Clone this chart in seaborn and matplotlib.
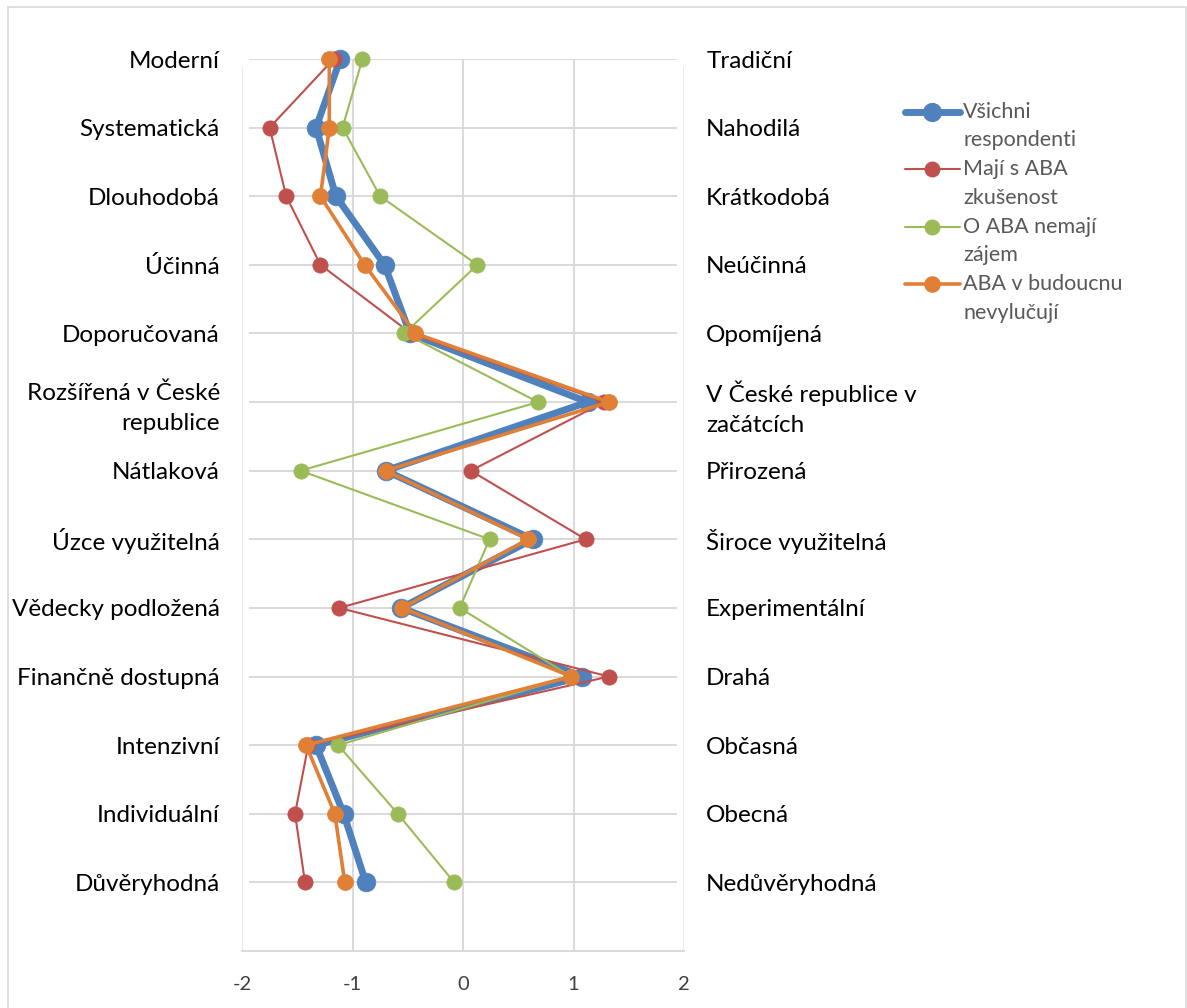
import numpy as np
import pandas as pd
import matplotlib
matplotlib.use("Agg")
import matplotlib.pyplot as plt
from matplotlib.lines import Line2D
from matplotlib.patches import Rectangle
import seaborn as sns

# Semantic differential: pairs of opposite attributes (left / right poles)
left_labels = ["Moderní", "Systematická", "Dlouhodobá", "Účinná", "Doporučovaná",
               "Rozšířená v České\nrepublice", "Nátlaková", "Úzce využitelná",
               "Vědecky podložená", "Finančně dostupná", "Intenzivní",
               "Individuální", "Důvěryhodná"]
right_labels = ["Tradiční", "Nahodilá", "Krátkodobá", "Neúčinná", "Opomíjená",
                "V České republice v\nzačátcích", "Přirozená", "Široce využitelná",
                "Experimentální", "Drahá", "Občasná", "Obecná", "Nedůvěryhodná"]

# Mean scores per respondent group (scale -2 .. 2), listed top to bottom
vsichni = [-1.11, -1.33, -1.15, -0.71, -0.48, 1.13, -0.70, 0.63, -0.56, 1.08, -1.33, -1.08, -0.88]
maji_zkusenost = [-1.17, -1.75, -1.60, -1.29, -0.47, 1.28, 0.07, 1.11, -1.12, 1.32, -1.40, -1.52, -1.43]
nemaji_zajem = [-0.91, -1.09, -0.75, 0.13, -0.53, 0.68, -1.47, 0.24, -0.03, 0.98, -1.13, -0.59, -0.08]
nevylucuji = [-1.21, -1.21, -1.29, -0.89, -0.43, 1.32, -0.70, 0.59, -0.55, 0.98, -1.42, -1.16, -1.07]

series_names = ["Všichni\nrespondenti", "Mají s ABA\nzkušenost",
                "O ABA nemají\nzájem", "ABA v budoucnu\nnevylučují"]
series_values = [vsichni, maji_zkusenost, nemaji_zajem, nevylucuji]
colors = ["#4F81BD", "#C0504D", "#9BBB59", "#E07F36"]
widths = [5.0, 1.5, 1.5, 2.6]
msizes = [13.5, 11, 11, 11.5]

xticks = [-2, -1, 0, 1, 2]

sns.set_theme(style="white")
plt.rcParams["font.family"] = ["Lato", "DejaVu Sans"]

n = len(left_labels)
ypos = np.arange(n, 0, -1)

frames = []
for name, vals in zip(series_names, series_values):
    frames.append(pd.DataFrame({"skupina": name, "hodnota": vals, "pozice": ypos}))
data = pd.concat(frames, ignore_index=True)

W, H = 1187, 1008
fig = plt.figure(figsize=(W / 100, H / 100), dpi=100)
ax = fig.add_axes([242 / W, 1 - 951 / H, 442 / W, 892 / H])

grid_c = "#D9D9D9"
# grid: vertical at integer scores, horizontal at each attribute pair
ax.vlines([-1, 0, 1], 0, n, color=grid_c, lw=1.4, zorder=0)
ax.vlines([-2, 2], 0, n - 0.11, color="#E6E6E6", lw=1.2, zorder=0)
ax.hlines(ypos, -1.937, 1.937, color=grid_c, lw=1.4, zorder=0)

for i, name in enumerate(series_names):
    sub = data[data["skupina"] == name]
    sns.lineplot(data=sub, x="hodnota", y="pozice", sort=False, estimator=None,
                 orient="y", color=colors[i], lw=widths[i], marker="o",
                 markersize=msizes[i], markeredgecolor=colors[i],
                 markeredgewidth=0.5, ax=ax, zorder=2 + i, legend=False)
for line in ax.lines:
    line.set_clip_on(False)

ax.set_xlim(-2, 2)
ax.set_ylim(0, n)
ax.set_xticks(xticks, labels=[str(v) for v in xticks])
ax.set_yticks(ypos, labels=left_labels)
ax.set_xlabel("")
ax.set_ylabel("")
ax.tick_params(axis="x", length=0, pad=18, labelsize=14.5, labelcolor="#404040")
ax.tick_params(axis="y", length=0, pad=16, labelsize=17.5, labelcolor="black")
for s in ["top", "left", "right"]:
    ax.spines[s].set_visible(False)
ax.spines["bottom"].set_color(grid_c)
ax.spines["bottom"].set_linewidth(1.4)

ax2 = ax.twinx()
ax2.set_ylim(0, n)
ax2.set_yticks(ypos, labels=right_labels)
ax2.tick_params(axis="y", length=0, pad=16, labelsize=17.5, labelcolor="black")
for s in ax2.spines.values():
    s.set_visible(False)
for lab in ax.get_yticklabels() + ax2.get_yticklabels():
    lab.set_linespacing(1.5)

# legend with the marker aligned to the first line of each entry
leg_y = [111.7, 169.2, 226.7, 284.2]
for i, name in enumerate(series_names):
    yf = 1 - leg_y[i] / H
    fig.add_artist(Line2D([905 / W, 960 / W], [yf, yf], color=colors[i],
                          lw=widths[i], transform=fig.transFigure))
    fig.add_artist(Line2D([932 / W], [yf], color=colors[i], marker="o",
                          markersize=msizes[i] * 0.95, markeredgecolor=colors[i],
                          transform=fig.transFigure))
    for k, part in enumerate(name.split("\n")):
        fig.text(963 / W, 1 - (leg_y[i] + k * 28.5) / H, part, fontsize=15.5,
                 color="#595959", va="center", ha="left")

# chart border
fig.add_artist(Rectangle((8 / W, -0.05), (1186 - 8) / W, 1.05 - 7 / H,
                         transform=fig.transFigure, fill=False,
                         edgecolor="#D9D9D9", lw=1.2))

fig.savefig("out.png", dpi=100, facecolor="white")
